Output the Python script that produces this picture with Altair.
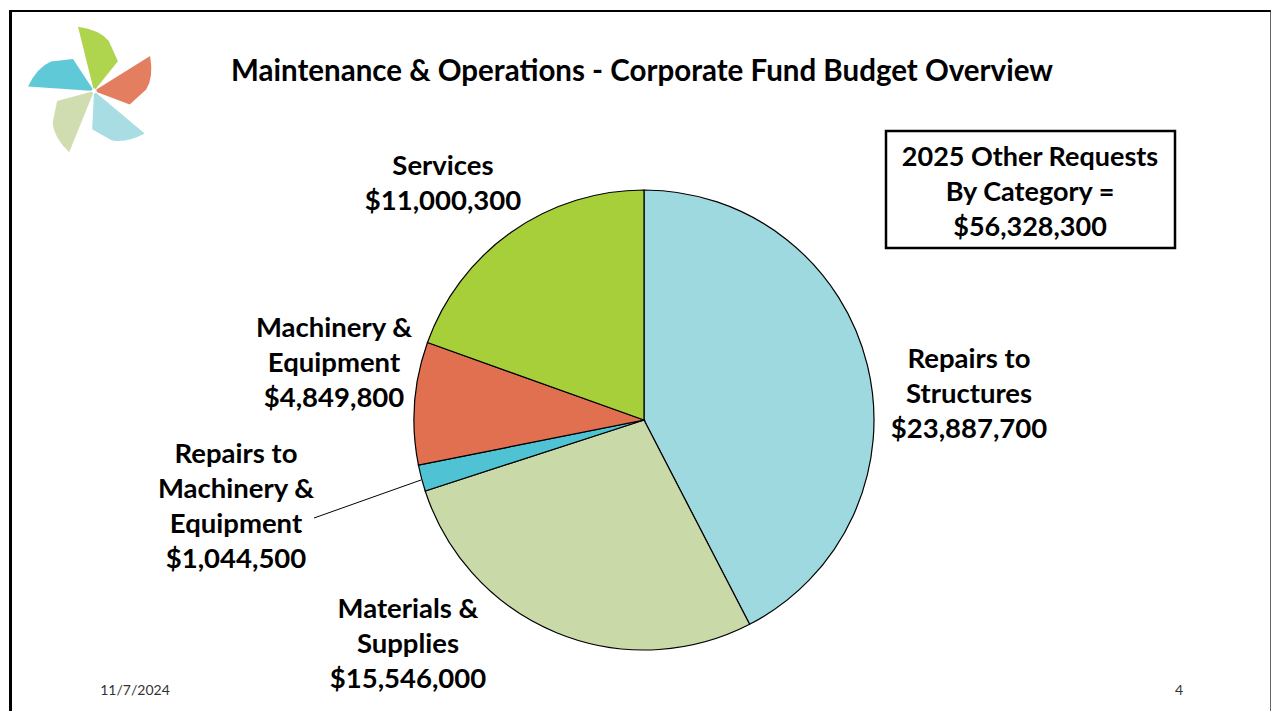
import altair as alt
import pandas as pd

categories = ["Repairs to Structures", "Materials & Supplies",
              "Repairs to Machinery & Equipment", "Machinery & Equipment", "Services"]
values = [23887700, 15546000, 1044500, 4849800, 11000300]
colors = ["#9fd9e0", "#cad9a8", "#4fc3d4", "#e07050", "#a6cf3a"]
label_lines = [["Repairs to", "Structures"], ["Materials &", "Supplies"],
               ["Repairs to", "Machinery &", "Equipment"], ["Machinery &", "Equipment"],
               ["Services"]]
title_text = "Maintenance & Operations - Corporate Fund Budget Overview"
total_text = ["2025 Other Requests", "By Category =", "$56,328,300"]
date_text = "11/7/2024"
page_text = "4"

W, H = 1263, 703
OFF = 8  # page margin; reference pixel coords minus OFF
FONT = "Lato"

df = pd.DataFrame({"category": categories, "value": values,
                   "order": list(range(len(categories)))})

pie = alt.Chart(df).mark_arc(stroke="black", strokeWidth=1.2).encode(
    theta=alt.Theta("value:Q", stack=True),
    order=alt.Order("order:Q"),
    color=alt.Color("category:N", scale=alt.Scale(domain=categories, range=colors), legend=None),
    x=alt.value(643 - OFF), y=alt.value(418 - OFF), radius=alt.value(230),
)

base = alt.Chart(pd.DataFrame({"a": [0]}))

def money(v):
    return "${:,}".format(v)

label_pos = [(968, 358), (407, 608), (235, 453), (333, 327), (442, 165)]
layers = [pie]
for i, (cx, cy) in enumerate(label_pos):
    lines = label_lines[i] + [money(values[i])]
    layers.append(base.mark_text(fontSize=27.5, fontWeight="bold", font=FONT, align="center",
                                 baseline="middle", lineHeight=35, color="black").encode(
        x=alt.value(cx - OFF), y=alt.value(cy - OFF), text=alt.value(lines)))

# leader line
layers.append(base.mark_rule(color="black", strokeWidth=1).encode(
    x=alt.value(313 - OFF), y=alt.value(516 - OFF), x2=alt.value(420 - OFF), y2=alt.value(478 - OFF)))

# title
layers.append(base.mark_text(fontSize=29.5, fontWeight="bold", font=FONT, align="center",
                             baseline="middle", color="black").encode(
    x=alt.value(641 - OFF), y=alt.value(70 - OFF), text=alt.value(title_text)))

# total box
layers.append(base.mark_rect(fill="white", stroke="black", strokeWidth=2.5).encode(
    x=alt.value(885 - OFF), x2=alt.value(1174 - OFF), y=alt.value(129 - OFF), y2=alt.value(246 - OFF)))
layers.append(base.mark_text(fontSize=27, fontWeight="bold", font=FONT, align="center",
                             baseline="middle", lineHeight=35, color="black").encode(
    x=alt.value(1029 - OFF), y=alt.value(156 - OFF), text=alt.value(total_text)))

# footer
layers.append(base.mark_text(fontSize=14, font=FONT, align="center", baseline="middle",
                             color="#333333").encode(
    x=alt.value(134 - OFF), y=alt.value(689 - OFF), text=alt.value(date_text)))
layers.append(base.mark_text(fontSize=14, font=FONT, align="center", baseline="middle",
                             color="#333333").encode(
    x=alt.value(1178 - OFF), y=alt.value(689 - OFF), text=alt.value(page_text)))

# slide borders
layers.append(base.mark_rule(color="black", strokeWidth=3).encode(
    x=alt.value(1.5), x2=alt.value(1.5), y=alt.value(0), y2=alt.value(H)))
layers.append(base.mark_rule(color="black", strokeWidth=2).encode(
    x=alt.value(0), x2=alt.value(W), y=alt.value(1), y2=alt.value(1)))
layers.append(base.mark_rule(color="#333333", strokeWidth=1.5).encode(
    x=alt.value(W - 1), x2=alt.value(W - 1), y=alt.value(0), y2=alt.value(H)))
layers.append(base.mark_rule(color="#888888", strokeWidth=2).encode(
    x=alt.value(0), x2=alt.value(W), y=alt.value(H - 1), y2=alt.value(H - 1)))

# pinwheel logo: five blades as custom symbol paths
blade = "M0,0 L0,-1 Q0.3,-0.88 0.4,-0.68 L0.46,-0.35 Z"
logo_cx, logo_cy = 93 - OFF, 89 - OFF
blade_colors = ["#a6cf3a", "#e07050", "#9fd9e0", "#cad9a8", "#4fc3d4"]
for k, col in enumerate(blade_colors):
    layers.append(base.mark_point(shape=blade, filled=True, opacity=0.9, color=col,
                                  angle=(k * 72 + 346) % 360, size=17500, strokeWidth=0).encode(
        x=alt.value(logo_cx), y=alt.value(logo_cy)))
layers.append(base.mark_point(shape="diamond", filled=True, opacity=1, color="white",
                              size=40, strokeWidth=0).encode(
    x=alt.value(logo_cx), y=alt.value(logo_cy)))

chart = alt.layer(*layers).properties(
    width=W, height=H, padding=0,
    autosize=alt.AutoSizeParams(type="fit", contains="padding"),
).configure_view(stroke=None)

chart.save("out.html", embed_options={"renderer": "svg", "actions": False})
